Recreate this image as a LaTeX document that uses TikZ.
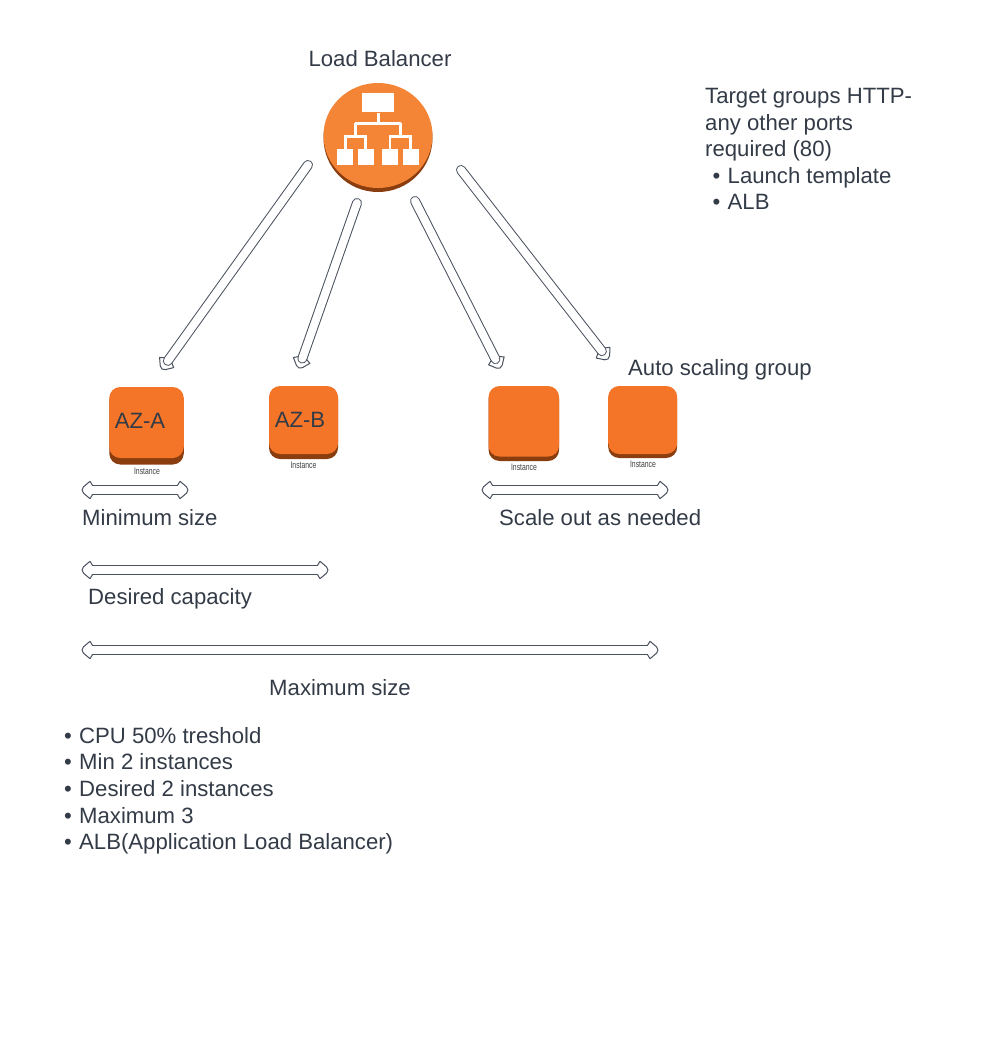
\documentclass[tikz,border=0pt]{standalone}
\usepackage{fontspec}
\setmainfont{Liberation Sans}
\newfontfamily\narrowfont[FakeStretch=0.72]{Liberation Sans}
\usetikzlibrary{arrows.meta,shapes.geometric}
\definecolor{textgray}{HTML}{333B47}
\definecolor{lineedge}{HTML}{4A525E}
\definecolor{awsorange}{HTML}{F47528}
\definecolor{lborange}{HTML}{F58536}
\definecolor{awsbrown}{HTML}{8A3D0E}
\pgfdeclarearrow{
  name=Flare,
  setup code={
    \pgfarrowssettipend{0pt}
    \pgfarrowssetlineend{-10pt}
    \pgfarrowssetvisualbackend{-10pt}
    \pgfarrowssetbackend{-11pt}
    \pgfarrowshullpoint{-11pt}{9pt}
    \pgfarrowshullpoint{-11pt}{-9pt}
    \pgfarrowshullpoint{0pt}{0pt}
  },
  drawing code={
    \pgfsetlinewidth{1pt}
    \pgfsetroundjoin
    \pgfpathmoveto{\pgfqpoint{-10.5pt}{4.6pt}}
    \pgfpathlineto{\pgfqpoint{-8pt}{8.7pt}}
    \pgfpathlineto{\pgfqpoint{-1.5pt}{3.2pt}}
    \pgfpathcurveto{\pgfqpoint{-0.3pt}{2pt}}{\pgfqpoint{0pt}{1pt}}{\pgfqpoint{0pt}{0pt}}
    \pgfpathcurveto{\pgfqpoint{0pt}{-1pt}}{\pgfqpoint{-0.3pt}{-2pt}}{\pgfqpoint{-1.5pt}{-3.2pt}}
    \pgfpathlineto{\pgfqpoint{-8pt}{-8.7pt}}
    \pgfpathlineto{\pgfqpoint{-10.5pt}{-4.6pt}}
    \pgfusepathqstroke
  }
}
\tikzset{
  label/.style={inner sep=0pt,text=textgray,font=\fontsize{22.15}{26.6}\selectfont,align=left},
  tiny/.style={inner sep=0pt,text=black!75,font=\narrowfont\fontsize{9.5}{11}\selectfont},
  face/.style={fill=awsorange,rounded corners=11pt,inner sep=0pt},
  base/.style={fill=awsbrown,rounded corners=11pt,inner sep=0pt},
  iconbox/.style={fill=white,inner sep=0pt},
  iconline/.style={draw=white,line width=2.5pt},
  hollow/.style={draw=lineedge,line width=1pt,double=white,double distance=8pt,line cap=round,-Flare},
  hollowboth/.style={draw=lineedge,line width=1.3pt,double=white,double distance=8pt,Flare-Flare}
}
\newcommand{\bl}{\makebox[15pt][l]{\textbullet}}
\begin{document}
\begin{tikzpicture}[x=1pt,y=-1pt]
\useasboundingbox (0,0) rectangle (980,1060);

% load balancer
\node[label] (lbtitle) at (380,59) {Load Balancer};
\node[ellipse,fill=awsbrown,minimum width=109pt,minimum height=108pt,inner sep=0pt] (lbbase) at (378,138) {};
\node[ellipse,fill=lborange,minimum width=109pt,minimum height=105pt,inner sep=0pt] (lb) at (378,135.5) {};

\node[iconbox,minimum width=32pt,minimum height=19pt] (root) at (378.3,102.8) {};
\node[iconbox,minimum width=16pt,minimum height=16pt] (leafa) at (345.3,157) {};
\node[iconbox,minimum width=16pt,minimum height=16pt] (leafb) at (365.5,157) {};
\node[iconbox,minimum width=16pt,minimum height=16pt] (leafc) at (390.2,157) {};
\node[iconbox,minimum width=16pt,minimum height=16pt] (leafd) at (410.7,157) {};
\coordinate (busl) at (355.4,123.3);
\coordinate (busr) at (400.5,123.3);
\draw[iconline] (root.south) -- (root.south |- busl);
\draw[iconline] (busl) -- (busr);
\draw[iconline] (busl) -- ++(0,13.4);
\draw[iconline] (busr) -- ++(0,13.4);
\draw[iconline] (leafa.north) |- (busl |- 0,136.7) -| (leafb.north);
\draw[iconline] (leafc.north) |- (busr |- 0,136.7) -| (leafd.north);

% notes
\node[label,anchor=north west] (targets) at (705,88) {Target groups HTTP-\\any other ports\\required (80)\\\hspace*{7.5pt}\bl Launch template\\\hspace*{7.5pt}\bl ALB};
\node[label,anchor=west] (asg) at (628,370) {Auto scaling group};

% instances
\node[base,minimum width=74.5pt,minimum height=75pt] (basea) at (146.5,427) {};
\node[face,minimum width=74.5pt,minimum height=71pt] (aza) at (146.5,422.5) {};
\node[base,minimum width=69pt,minimum height=71pt] (baseb) at (303.5,423.5) {};
\node[face,minimum width=69pt,minimum height=68pt] (azb) at (303.5,420) {};
\node[base,minimum width=70.5pt,minimum height=73pt] (basec) at (523.8,424.5) {};
\node[face,minimum width=70.5pt,minimum height=70.5pt] (inc) at (523.8,421.3) {};
\node[base,minimum width=69pt,minimum height=70pt] (based) at (642.7,423) {};
\node[face,minimum width=69pt,minimum height=68pt] (ind) at (642.7,420) {};

\node[label] (azatext) at (140,421) {AZ-A};
\node[label] (azbtext) at (300,420) {AZ-B};
\node[tiny] (insta) at (147,471) {Instance};
\node[tiny] (instb) at (303.5,465) {Instance};
\node[tiny] (instc) at (524,467) {Instance};
\node[tiny] (instd) at (643,464) {Instance};

% arrows
\coordinate (taila) at (308,165);
\coordinate (heada) at (162,369);
\coordinate (tailb) at (357,203);
\coordinate (headb) at (299,368);
\coordinate (tailc) at (415,201);
\coordinate (headc) at (500,368);
\coordinate (taild) at (461,170);
\coordinate (headd) at (608,359);
\draw[hollow] (taila) -- (heada);
\draw[hollow] (tailb) -- (headb);
\draw[hollow] (tailc) -- (headc);
\draw[hollow] (taild) -- (headd);

\coordinate (minl) at (82,490);
\coordinate (minr) at (188,490);
\coordinate (desl) at (82,570);
\coordinate (desr) at (328,570);
\coordinate (maxl) at (82,650);
\coordinate (maxr) at (658,650);
\coordinate (outl) at (482,490);
\coordinate (outr) at (668,490);
\draw[hollowboth] (minl) -- (minr);
\draw[hollowboth] (desl) -- (desr);
\draw[hollowboth] (maxl) -- (maxr);
\draw[hollowboth] (outl) -- (outr);

\node[label,anchor=west] (minsize) at (82,517.5) {Minimum size};
\node[label,anchor=west] (scaleout) at (499,518) {Scale out as needed};
\node[label,anchor=west] (descap) at (88,599) {Desired capacity};
\node[label] (maxsize) at (340,688) {Maximum size};

\node[label,anchor=north west] (rules) at (64,727) {\bl CPU 50\% treshold\\\bl Min 2 instances\\\bl Desired 2 instances\\\bl Maximum 3\\\bl ALB(Application Load Balancer)};
\end{tikzpicture}
\end{document}
